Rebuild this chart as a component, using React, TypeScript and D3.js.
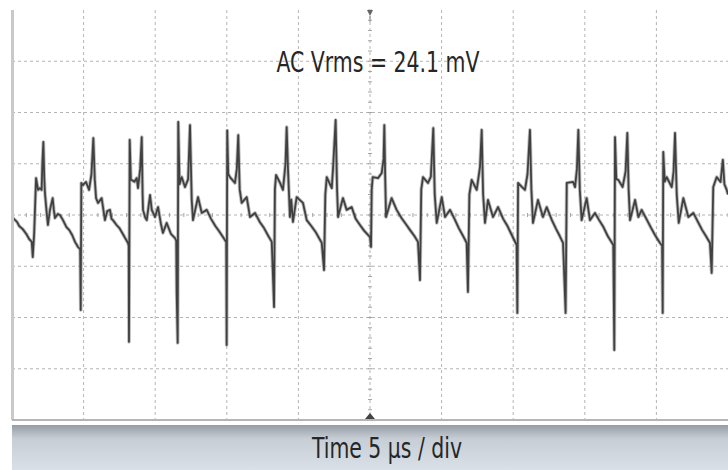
import * as d3 from 'd3';

// scope settings
const timePerDivUs = 5;
const voltsPerDivMv = 20;
const xDivisions = 10;
const yDivisions = 8;

const measureLabel = 'AC Vrms = 24.1 mV';
const timebaseLabel = 'Time 5 µs / div';

// ripple trace: [time µs, mV]
const ripple: [number, number][] = [
  [0, -0.8], [0.35, -2.7], [0.5, -4.3], [0.75, -5.5], [1.0, -7.4], [1.2, -9.4], [1.38, -10.5],
  [1.45, -16.4], [1.55, -7.0], [1.68, 14.4], [1.75, 12.1], [1.82, 9.8], [1.95, 10.5], [2.07, 9.8],
  [2.12, 20.0], [2.19, 28.5], [2.25, 15.0], [2.3, 8.6], [2.42, 1.0], [2.51, -3.9], [2.65, 2.0],
  [2.84, 6.6], [2.92, 2.0], [3.0, -1.2], [3.2, 0.4], [3.35, 0], [3.56, -2.0], [3.8, -4.7],
  [4.0, -5.9], [4.2, -7.8], [4.4, -10.5], [4.61, -12.5],
  [4.76, -13.3], [4.8, -37.1], [4.84, 12.5], [4.95, 11.7], [5.17, 12.9], [5.38, 9.8], [5.55, 16.0],
  [5.68, 30.0], [5.78, 14.0], [5.87, 6.6], [6.01, 4.7], [6.26, 6.6], [6.49, -2.0], [6.65, 1.5],
  [6.84, 2.0], [6.95, -1.5], [7.05, -2.0], [7.3, -3.9], [7.5, -5.1], [7.7, -7.0], [7.9, -9.0], [8.1, -10.9],
  [8.15, -12.0], [8.17, -49.5], [8.22, 29.3], [8.3, 13.7], [8.36, 13.7], [8.55, 13.0], [8.71, 14.4],
  [8.8, 10.5], [8.95, 18.0], [9.06, 30.4], [9.12, 8.0], [9.15, 2.0], [9.3, -1.0], [9.41, -2.0],
  [9.64, 7.8], [9.76, 2.0], [9.99, -0.8], [10.2, 3.1], [10.4, -3.5], [10.54, -7.0], [10.8, -3.1],
  [11.1, -7.4], [11.38, -9.0],
  [11.47, -10.0], [11.5, -30.4], [11.57, -49.9], [11.61, 36.3], [11.7, 12.0], [11.85, 14.8],
  [12.08, 10.9], [12.3, 14.0], [12.43, 35.1], [12.55, 5.9], [12.64, -2.0], [12.99, 7.0], [13.25, 0.8],
  [13.6, 2.0], [13.9, -1.5], [14.2, -4.3], [14.5, -6.6], [14.87, -9.8],
  [14.96, -10.5], [14.99, -50.7], [15.03, 33.0], [15.1, 16.0], [15.22, 14.8], [15.57, 12.5],
  [15.7, 18.0], [15.8, 31.2], [15.9, 10.0], [16.04, 4.7], [16.39, 7.0], [16.62, -0.8], [16.97, 0.8],
  [17.3, -2.7], [17.6, -5.1], [17.9, -8.2], [18.14, -10.5],
  [18.3, -35.9], [18.36, 10.0], [18.44, 15.6], [18.72, 12.5], [18.92, 9.8], [19.1, 20.0], [19.18, 34.3],
  [19.27, 18.3], [19.41, -0.8], [19.5, 6.0], [19.62, -2.7], [19.88, 7.0], [20.32, 4.7], [20.58, -2.0],
  [20.9, -4.3], [21.2, -6.6], [21.4, -8.6], [21.63, -10.9],
  [21.79, -21.5], [21.88, 8.0], [21.98, 14.8], [22.33, 10.5], [22.42, 18.3], [22.6, 37.1], [22.7, 10.0],
  [22.77, -0.8], [23.11, 6.6], [23.37, 2.0], [23.72, 3.1], [24.0, -1.5], [24.3, -3.9], [24.6, -6.2], [25.0, -8.6],
  [25.07, -12.5], [25.12, 10.0], [25.19, 14.8], [25.56, 14.4], [25.82, 16.4], [25.95, 22.0], [26.0, 35.1],
  [26.06, 15.0], [26.12, -0.8], [26.51, 6.6], [26.86, 2.0], [27.2, -1.2], [27.5, -3.5], [27.8, -5.9],
  [28.1, -8.2], [28.35, -10.5],
  [28.49, -25.4], [28.58, 10.0], [28.7, 14.8], [29.05, 12.5], [29.25, 15.0], [29.42, 33.9], [29.52, 8.0],
  [29.66, -3.1], [30.01, 7.0], [30.24, -0.8], [30.59, 2.0], [30.9, -1.5], [31.2, -5.1], [31.5, -8.2], [31.75, -10.9],
  [31.84, -30.0], [31.94, 8.0], [32.1, 13.7], [32.45, 9.8], [32.68, 18.7], [32.8, 33.2], [32.9, 8.0],
  [33.03, -3.1], [33.24, 5.9], [33.59, -0.8], [33.94, 3.1], [34.3, -1.5], [34.6, -4.3], [34.9, -7.8], [35.24, -11.7],
  [35.29, -38.2], [35.34, 12.5], [35.6, 11.0], [35.82, 9.8], [36.0, 16.0], [36.17, 33.2], [36.27, 10.0],
  [36.38, -3.1], [36.73, 5.9], [37.08, -0.8], [37.34, 3.1], [37.7, -2.0], [38.0, -5.5], [38.25, -8.2], [38.48, -10.9],
  [38.66, -38.2], [38.74, 12.5], [39.18, 12.9], [39.32, 10.9], [39.45, 18.0], [39.55, 33.2], [39.65, 10.0],
  [39.78, -2.0], [40.13, 6.6], [40.36, -2.0], [40.71, 0.8], [41.0, -2.0], [41.3, -4.7], [41.6, -8.2], [41.99, -11.7],
  [42.06, -52.7], [42.11, 30.4], [42.2, 14.0], [42.34, 13.7], [42.64, 10.9], [42.85, 17.0], [42.97, 32.0],
  [43.06, 10.0], [43.16, -2.0], [43.51, 5.9], [43.74, -0.8], [43.97, 2.0], [44.3, -1.5], [44.6, -4.7],
  [44.9, -7.8], [45.25, -10.9],
  [45.4, -12.0], [45.44, -38.2], [45.48, 24.6], [45.58, 13.0], [45.72, 14.8], [46.07, 10.9], [46.2, 17.0],
  [46.3, 32.0], [46.42, 8.0], [46.56, -3.1], [46.88, 6.6], [47.23, -0.8], [47.58, 0.8], [47.9, -2.7],
  [48.2, -5.9], [48.5, -8.6], [48.74, -10.9],
  [48.86, -22.6], [48.97, 10.9], [49.21, 14.8], [49.48, 12.9], [49.64, 21.5], [49.75, 12.0], [49.91, 9.8], [50, 8.0],
];

const W = 728;
const H = 470;
const plot = { left: 12, right: 728, top: 10, bottom: 420 };
const FONT = "'Liberation Sans Narrow', 'Arial Narrow', 'DejaVu Sans Condensed', sans-serif";

const App = () => {
  const tMax = timePerDivUs * xDivisions;
  const vMax = (voltsPerDivMv * yDivisions) / 2;

  const x = d3.scaleLinear().domain([0, tMax]).range([plot.left, plot.right]);
  const y = d3.scaleLinear().domain([-vMax, vMax]).range([plot.bottom, plot.top]);

  const line = d3.line<[number, number]>()
    .x(d => x(d[0]))
    .y(d => y(d[1]));

  const xGrid = d3.range(1, xDivisions).map(i => i * timePerDivUs);
  const yGrid = d3.range(1, yDivisions).map(i => -vMax + i * voltsPerDivMv);
  const xMinor = d3.range(0, tMax + 0.001, timePerDivUs / 5);
  const yMinor = d3.range(-vMax, vMax + 0.001, voltsPerDivMv / 5);

  const path = line(ripple) ?? '';

  return (
    <svg width={W} height={H} style={{ position: 'absolute', left: 0, top: 0, background: '#fff' }}>
      <defs>
        <linearGradient id="panel" x1="0" y1="0" x2="0" y2="1">
          <stop offset="0%" stopColor="#959ca4" />
          <stop offset="30%" stopColor="#c6cdd5" />
          <stop offset="100%" stopColor="#d9e0e8" />
        </linearGradient>
        <clipPath id="screen">
          <rect x={plot.left} y={plot.top} width={plot.right - plot.left} height={plot.bottom - plot.top} />
        </clipPath>
      </defs>

      {/* graticule */}
      <g stroke="#b4b4b4" strokeWidth={1} strokeDasharray="3,3">
        {xGrid.map(t => (
          <line key={'vx' + t} x1={x(t)} x2={x(t)} y1={plot.top} y2={plot.bottom} />
        ))}
        {yGrid.map(v => (
          <line key={'hy' + v} x1={plot.left} x2={plot.right} y1={y(v)} y2={y(v)} />
        ))}
      </g>
      <g stroke="#a5a5a5" strokeWidth={1}>
        {xMinor.map(t => (
          <line key={'mx' + t} x1={x(t)} x2={x(t)} y1={y(0) - 2} y2={y(0) + 2} />
        ))}
        {yMinor.map(v => (
          <line key={'my' + v} x1={x(tMax / 2) - 2} x2={x(tMax / 2) + 2} y1={y(v)} y2={y(v)} />
        ))}
      </g>

      {/* trace */}
      <g clipPath="url(#screen)" fill="none" strokeLinejoin="round">
        <path d={path} stroke="#7a7a7a" strokeWidth={3.6} strokeOpacity={0.5} />
        <path d={path} stroke="#404040" strokeWidth={1.8} />
      </g>

      {/* frame */}
      <rect x={11} y={plot.top} width={3} height={plot.bottom - plot.top} fill="#c9c9c9" />
      <line x1={plot.left} x2={plot.right} y1={plot.bottom} y2={plot.bottom} stroke="#b5b5b5" strokeWidth={2} />

      {/* trigger markers */}
      <path d={`M${x(tMax / 2) - 3},${plot.top} L${x(tMax / 2) + 3},${plot.top} L${x(tMax / 2)},${plot.top + 6} Z`} fill="#666" />
      <line x1={x(tMax / 2)} x2={x(tMax / 2)} y1={plot.top + 6} y2={plot.top + 12} stroke="#888" />
      <path d={`M${x(tMax / 2) - 5},${plot.bottom - 1} L${x(tMax / 2) + 5},${plot.bottom - 1} L${x(tMax / 2)},${plot.bottom - 7} Z`} fill="#444" />

      {/* bottom panel */}
      <rect x={plot.left} y={425} width={plot.right - plot.left} height={H - 425} fill="url(#panel)" />

      <text x={378} y={72} textAnchor="middle" fontFamily={FONT} fontSize={28} fill="#262626"
        textLength={203} lengthAdjust="spacingAndGlyphs">{measureLabel}</text>
      <text x={387} y={458} textAnchor="middle" fontFamily={FONT} fontSize={28} fill="#262626"
        textLength={150} lengthAdjust="spacingAndGlyphs">{timebaseLabel}</text>
    </svg>
  );
};

export default App;
